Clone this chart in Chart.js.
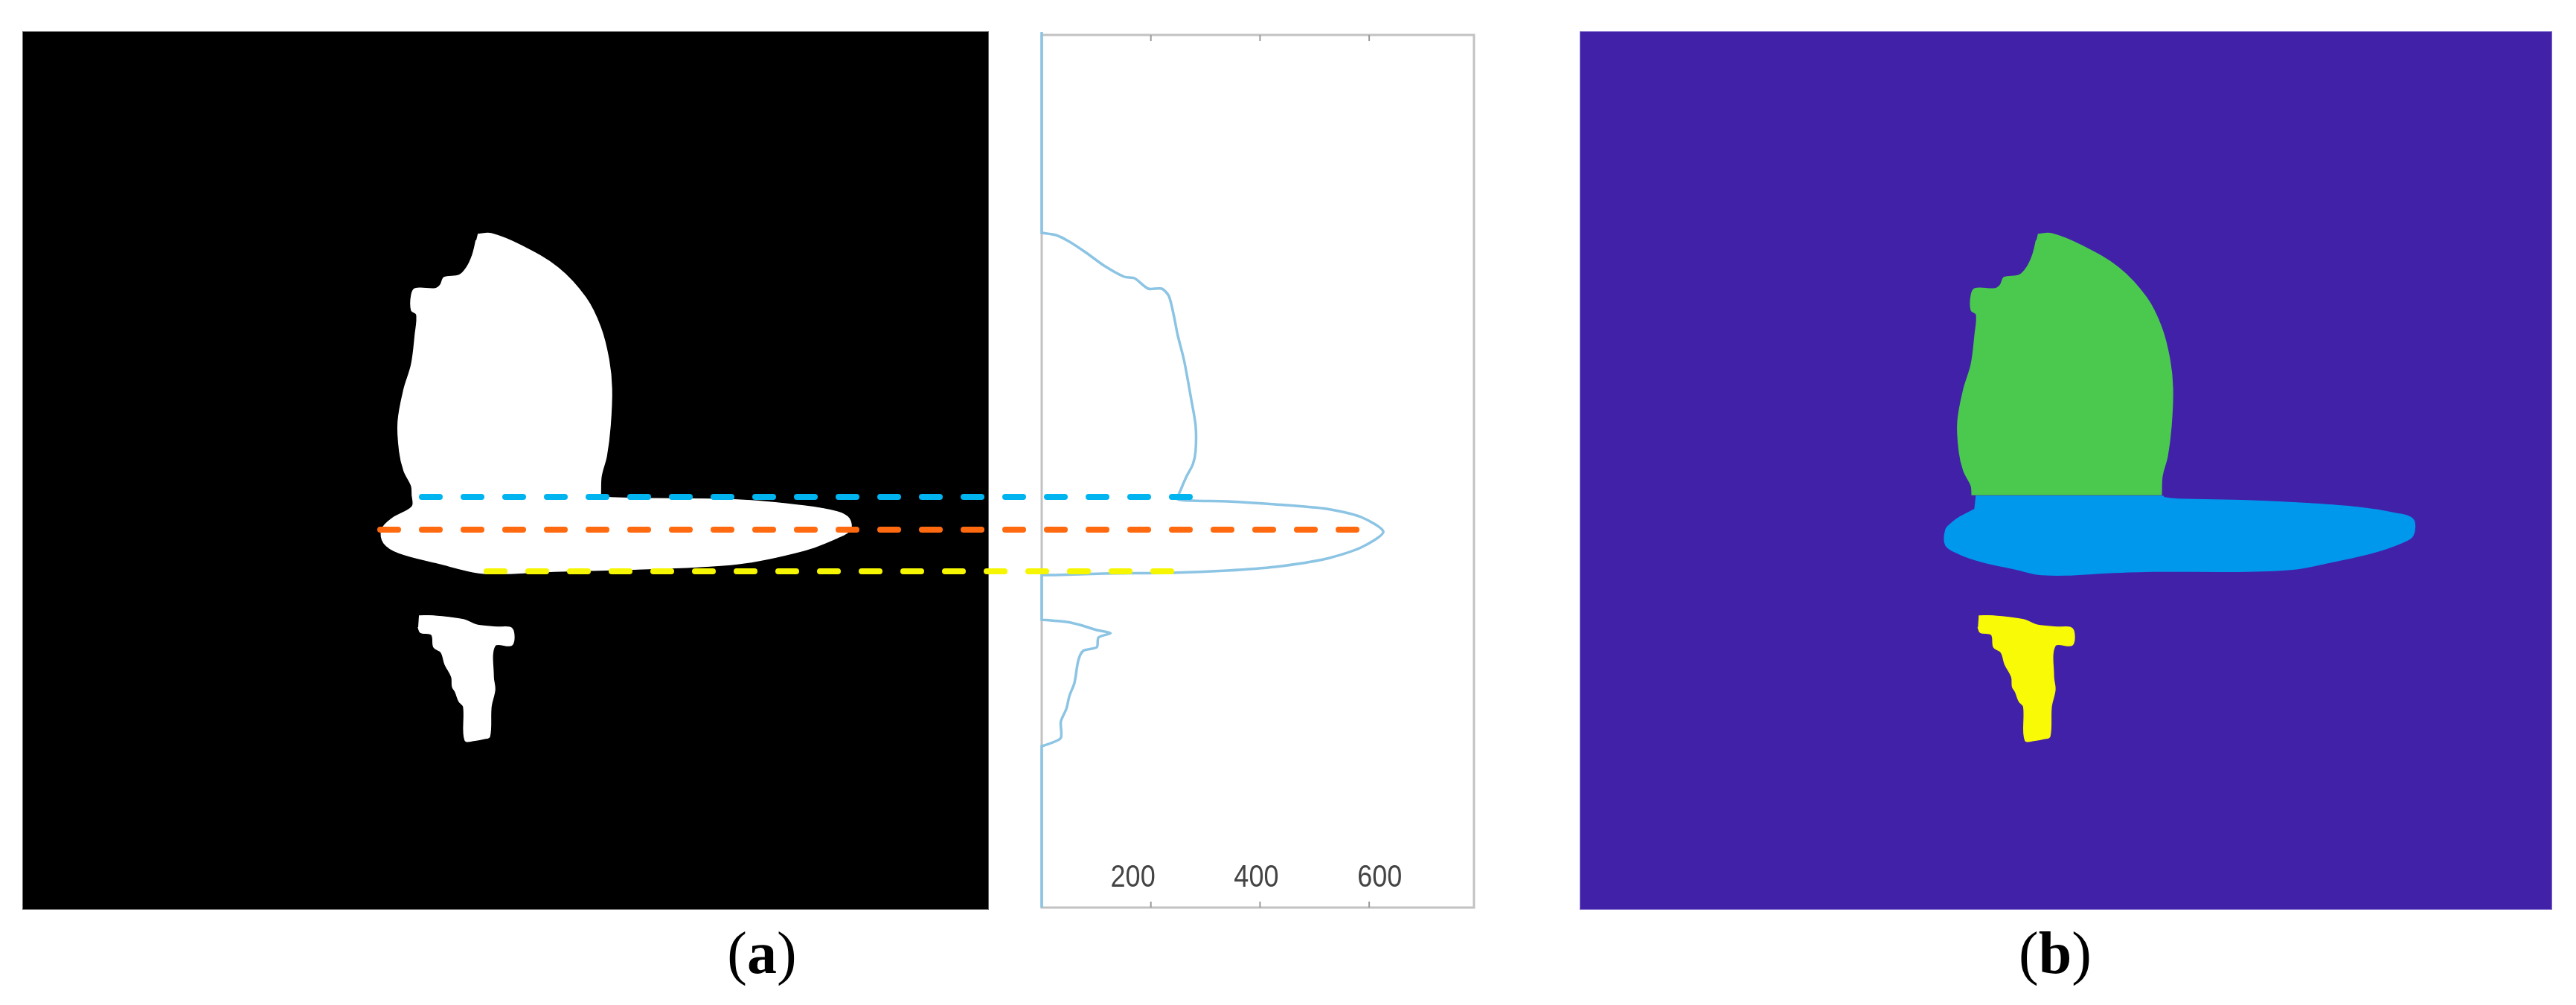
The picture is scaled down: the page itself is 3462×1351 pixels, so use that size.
<!DOCTYPE html>
<html>
<head>
<meta charset="utf-8">
<script src="https://cdn.jsdelivr.net/npm/chart.js@4/dist/chart.umd.min.js"></script>
<style>
  html, body { margin: 0; padding: 0; background: #fff; }
  #wrap { position: relative; width: 3462px; height: 1351px; }
  #fig { position: absolute; left: 0; top: 0; }
  .cap {
    position: absolute; top: 1233px; transform: translateX(-50%);
    font-family: 'Liberation Serif', 'DejaVu Serif', serif;
    font-size: 80px; line-height: 96px; color: #000; white-space: nowrap;
  }
</style>
</head>
<body>
<div id="wrap">
  <canvas id="fig" width="3462" height="1351"></canvas>
  <div class="cap" style="left:1024px">(<b>a</b>)</div>
  <div class="cap" style="left:2762px">(<b>b</b>)</div>
</div>
<script>
// size of the slice, in pixels
const imageCols = 1297;
const imageRows = 1179;

// region outlines as [column, row]; repeated points keep a corner sharp
const upperRegion = [
  [611,272],[629,271],[669,287],[719,317],[756,357],[776,397],[787,440],[791,480],
  [789,530],[784,570],[777,597],[776,622],[776,622],[523,622],[523,622],[522,610],[512,590],[506,564],
  [504,524],[512,480],[522,447],[527,407],[529,380],[522,374],[522,354],[527,345],
  [554,345],[561,340],[566,330],[586,327],[596,317],[604,300],[609,280]
];
const middleRegionA = [
  [523,622],[523,638],[496,654],[482,669],[485,687],[505,700],[558,714],[612,727],
  [648,728],[714,725],[826,722],[960,715],[1049,697],[1094,680],[1112,669],[1110,654],
  [1094,645],[1049,637],[960,629],[790,626],[776,622]
];
const middleRegionB = [
  [528,624],[528,624],[778,624],[778,624],[780,626],[799,628],[892,630],[975,634],[1038,639],[1088,647],
  [1112,655],[1112,677],[1096,687],[1058,700],[996,714],[954,722],[892,725],[766,725],
  [703,727],[649,730],[611,729],[581,722],[536,712],[507,702],[488,690],[488,669],
  [496,660],[507,652],[526,642]
];
const lowerRegion = [
  [532,785],[552,785],[592,790],[609,797],[636,800],[657,802],[657,824],[634,825],
  [632,867],[634,884],[629,907],[627,947],[619,950],[609,952],[594,952],[592,907],
  [586,900],[581,887],[577,880],[576,867],[567,850],[562,834],[552,827],[549,810],
  [534,807],[531,800]
];

// horizontal projection: white pixel count per row
const profileRows = [
  0,270,270,273,282,297,314,329,331,345,345,355,381,407,442,494,529,563,581,598,615,
  628,630,631,635,641,652,672,693,708,719,724,727,728,730,730,730,790,790,793,797,804,808,
  814,827,832,845,875,892,910,927,949,957,960,960,1177
];
const profileCounts = [
  0,0,0,26,51,82,114,151,170,195,220,233,242,249,261,274,282,282,277,265,255,
  249,277,340,428,522,585,626,585,522,428,340,239,114,26,0,0,0,0,45,70,101,126,
  104,101,76,67,60,51,45,35,35,13,0,0,0
];
const profileTicks = [200, 400, 600];
const profileMax = 792;

// dashed guides across (a)
const guideRows = [625, 669, 725];
const guideStart = [536, 480, 623];
const guideEnd = [1575, 1801, 1559];
const guideColors = ['#00b4f0', '#ff6a10', '#f6f600'];

// layout of the three panels on the canvas
const AREA = { left: 31, right: 3429, top: 43, bottom: 1222 };
function span(originPx, pxPerUnit) {
  return { min: (AREA.left - originPx) / pxPerUnit, max: (AREA.right - originPx) / pxPerUnit };
}
const spanA = span(31, 1);
const spanB = span(2124, 1305 / imageCols);
const spanP = span(1400, 0.7335);

const pts = arr => arr.map(p => ({ x: p[0], y: p[1] }));

function region(data, axis, color) {
  return {
    data: pts(data), xAxisID: axis, yAxisID: 'y',
    borderColor: color, backgroundColor: color, borderWidth: 1.5,
    fill: 'shape', tension: 0.35, pointRadius: 0, order: 3
  };
}

const datasets = [];
guideRows.forEach((r, i) => {
  datasets.push({
    data: [{ x: guideStart[i], y: r }, { x: guideEnd[i], y: r }],
    xAxisID: 'xa', yAxisID: 'y',
    borderColor: guideColors[i], borderWidth: 8, borderDash: [24, 32],
    borderCapStyle: 'round', fill: false, pointRadius: 0, order: 0
  });
});
datasets.push({
  data: profileRows.map((r, i) => ({ x: profileCounts[i], y: r })),
  xAxisID: 'xp', yAxisID: 'y',
  borderColor: '#8cc4e4', borderWidth: 3.5, fill: false, pointRadius: 0, tension: 0.25, order: 1
});
datasets.push(region(upperRegion, 'xa', '#ffffff'));
datasets.push(region(middleRegionA, 'xa', '#ffffff'));
datasets.push(region(lowerRegion, 'xa', '#ffffff'));
datasets.push(region(upperRegion, 'xb', '#4bc94f'));
datasets.push(region(middleRegionB, 'xb', '#0098ec'));
datasets.push(region(lowerRegion, 'xb', '#f9fa06'));

// backgrounds of the two images and the frame of the projection plot
const panels = {
  id: 'panels',
  beforeDatasetsDraw(chart) {
    const { ctx, scales } = chart;
    const { xa, xb, xp, y } = scales;
    const top = y.getPixelForValue(0), bot = y.getPixelForValue(imageRows);
    ctx.save();
    let l = xa.getPixelForValue(0), r = xa.getPixelForValue(imageCols);
    ctx.fillStyle = '#000';
    ctx.fillRect(l, top, r - l, bot - top);
    ctx.strokeStyle = '#666'; ctx.lineWidth = 1;
    ctx.strokeRect(l - 0.5, top - 0.5, r - l + 1, bot - top + 1);

    l = xb.getPixelForValue(0); r = xb.getPixelForValue(imageCols);
    ctx.fillStyle = '#4221a9';
    ctx.fillRect(l, top, r - l, bot - top);
    ctx.strokeStyle = '#7d68c8';
    ctx.strokeRect(l - 0.5, top - 0.5, r - l + 1, bot - top + 1);

    // projection frame
    const pl = xp.getPixelForValue(0), pr = xp.getPixelForValue(profileMax);
    const pt = y.getPixelForValue(4), pb = y.getPixelForValue(1177);
    ctx.strokeStyle = '#c2c2c2'; ctx.lineWidth = 3;
    ctx.strokeRect(pl, pt, pr - pl, pb - pt);
    ctx.strokeStyle = '#9a9a9a'; ctx.lineWidth = 2;
    ctx.fillStyle = '#444';
    ctx.font = '36px "Liberation Sans", Arial, sans-serif';
    ctx.textAlign = 'center'; ctx.textBaseline = 'middle';
    const mid = xp.getPixelForValue(profileTicks[1]);
    profileTicks.forEach(t => {
      const x = xp.getPixelForValue(t);
      ctx.beginPath();
      ctx.moveTo(x, pt); ctx.lineTo(x, pt + 8);
      ctx.moveTo(x, pb); ctx.lineTo(x, pb - 8);
      ctx.stroke();
      // the labels in the source sit slightly wider apart than the tick marks
      ctx.save();
      ctx.translate(mid - 5 + (x - mid) * 1.13, pb - 40);
      ctx.scale(1, 1.2);
      ctx.fillText(String(t), 0, 0);
      ctx.restore();
    });
    ctx.restore();
  }
};

new Chart(document.getElementById('fig'), {
  type: 'line',
  data: { datasets },
  options: {
    responsive: false,
    animation: false,
    devicePixelRatio: 1,
    layout: { padding: { left: AREA.left, right: 3462 - AREA.right, top: AREA.top, bottom: 1351 - AREA.bottom } },
    plugins: { legend: { display: false }, tooltip: { enabled: false } },
    scales: {
      xa: { type: 'linear', display: false, min: spanA.min, max: spanA.max },
      xb: { type: 'linear', display: false, min: spanB.min, max: spanB.max },
      xp: { type: 'linear', display: false, min: spanP.min, max: spanP.max },
      y: { type: 'linear', display: false, reverse: true, min: 0, max: imageRows }
    }
  },
  plugins: [panels]
});
</script>
</body>
</html>
